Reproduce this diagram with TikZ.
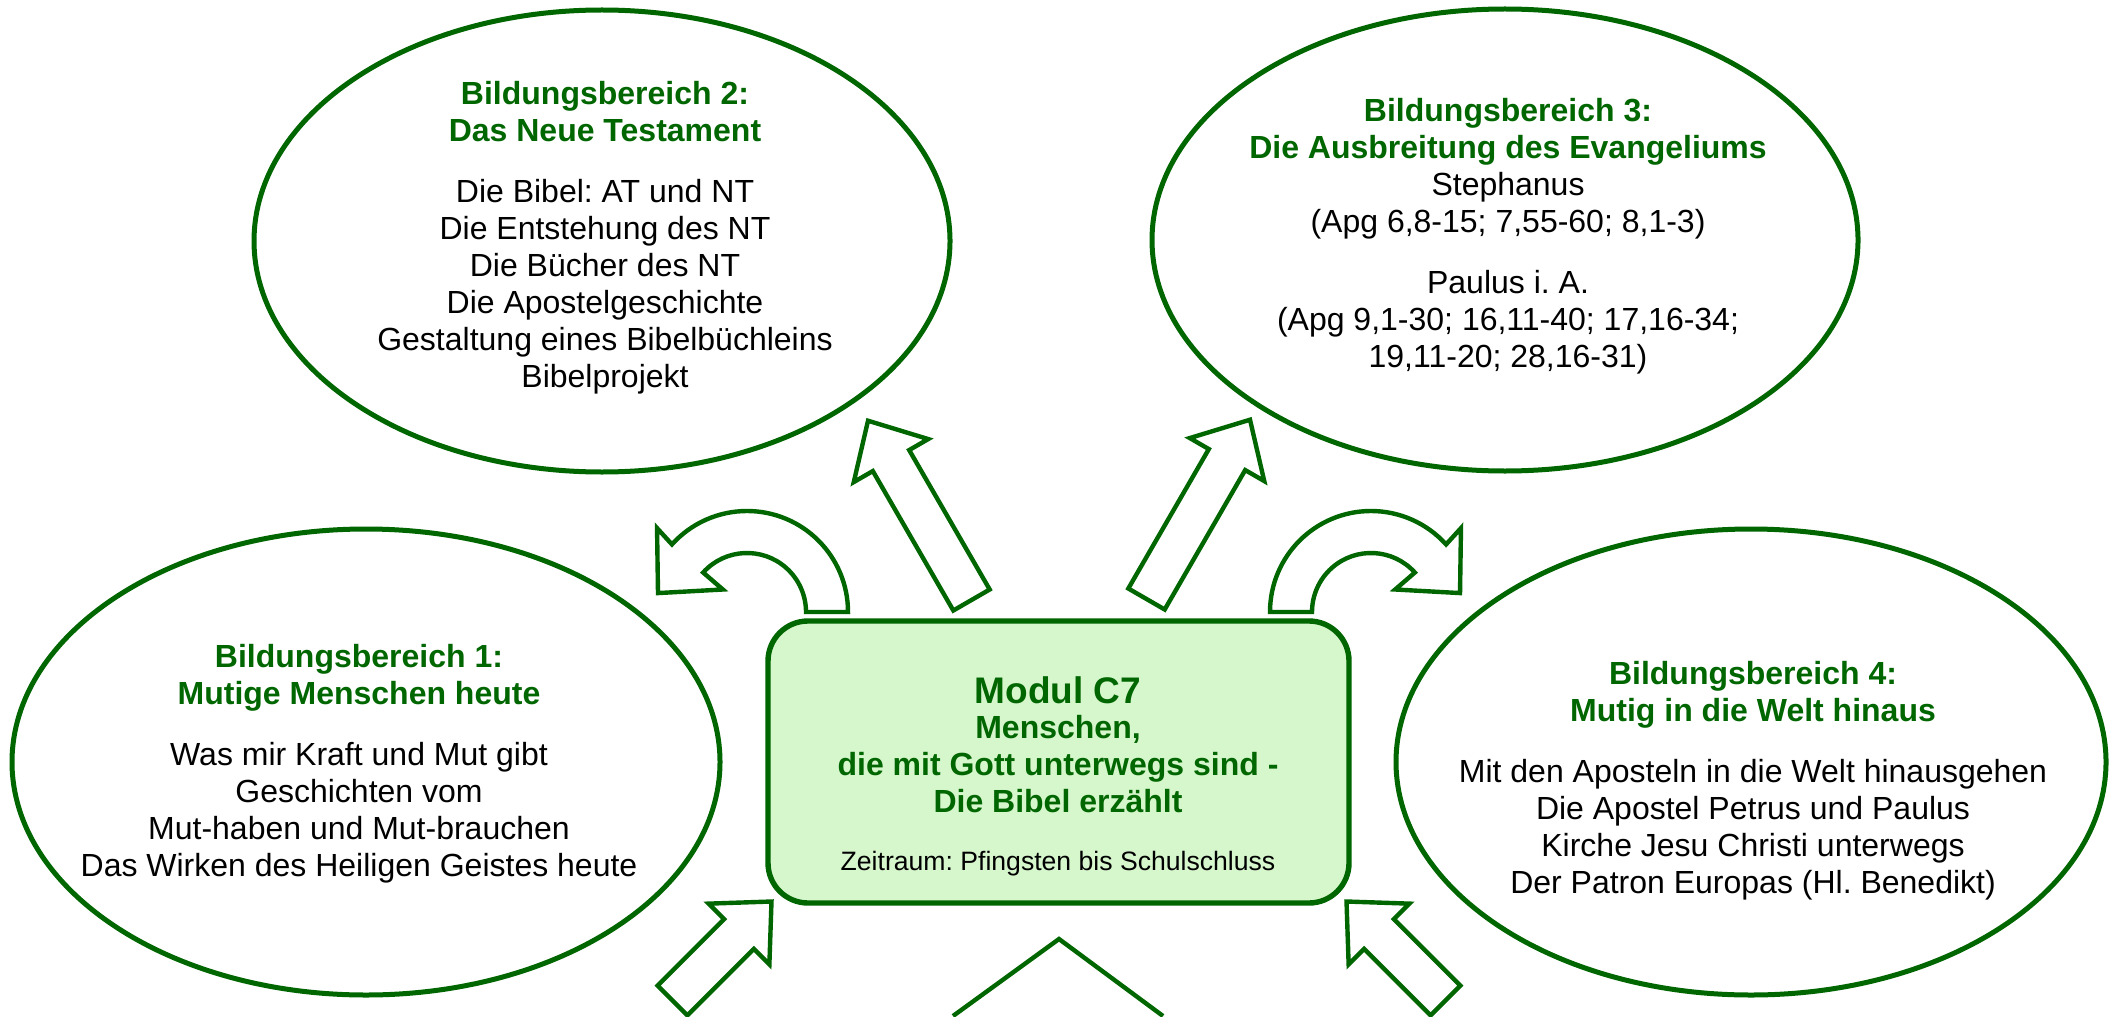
\documentclass[tikz,border=0pt]{standalone}
\usepackage{fontspec}
\setmainfont{Liberation Sans}
\usetikzlibrary{shapes.geometric}
\frenchspacing
\definecolor{dkgreen}{RGB}{0,102,0}
\definecolor{boxfill}{RGB}{214,246,204}
\newcommand{\grtitle}[1]{\textcolor{dkgreen}{\textbf{#1}}}
\newcommand{\straightblock}[4]{%
  \draw[blk, shift={(#1,#2)}, rotate=#3] (0,-21) -- ({#4-46},-21) -- ({#4-46},-43) -- (#4,0) -- ({#4-46},43) -- ({#4-46},21) -- (0,21) -- cycle;}
\begin{document}
\begin{tikzpicture}[x=0.5pt,y=-0.5pt,
  bubble/.style={ellipse, draw=dkgreen, line width=2.5pt, inner sep=0pt, outer sep=0pt},
  modbox/.style={rectangle, rounded corners=20pt, draw=dkgreen, fill=boxfill, line width=2.7pt, inner sep=0pt},
  blk/.style={draw=dkgreen, line width=2.2pt, line join=miter},
  txt/.style={align=center, inner sep=0pt, font=\fontsize{16}{18.5}\selectfont}]
\useasboundingbox[fill=white] (0,0) rectangle (2112,1016);

% ellipses
\node[bubble, minimum width=354pt, minimum height=233pt] (e1) at (366,762) {};
\node[bubble, minimum width=348pt, minimum height=231pt] (e2) at (602,241) {};
\node[bubble, minimum width=353pt, minimum height=231pt] (e3) at (1505,240) {};
\node[bubble, minimum width=355pt, minimum height=233pt] (e4) at (1751,762) {};

% central box
\node[modbox, minimum width=290.5pt, minimum height=141pt] (box) at (1058.5,762) {};

% straight block arrows
\straightblock{1146.5}{599}{60}{207}
\straightblock{971.5}{600}{120}{207}
\straightblock{672.5}{1000.5}{45}{140}
\straightblock{1445.5}{1000.5}{135}{140}

% curved block arrows
\draw[blk, shift={(1371,612)}, yscale=-1] (180:101) arc[start angle=180, end angle=42, radius=101]
  -- (43:123) -- (12:91) -- (43:33) -- (42:59) arc[start angle=42, end angle=180, radius=59] -- cycle;
\draw[blk, shift={(747,612)}, xscale=-1, yscale=-1] (180:101) arc[start angle=180, end angle=42, radius=101]
  -- (43:123) -- (12:91) -- (43:33) -- (42:59) arc[start angle=42, end angle=180, radius=59] -- cycle;

% bottom chevron
\coordinate (chl) at (953,1016);
\coordinate (chtop) at (1059,939);
\coordinate (chr) at (1163,1016);
\draw[blk] (chl) -- (chtop) -- (chr);

% texts
\node[txt] (t1) at (359,764) {\grtitle{Bildungsbereich 1:}\\\grtitle{Mutige Menschen heute}\\[12pt]
Was mir Kraft und Mut gibt\\Geschichten vom\\Mut-haben und Mut-brauchen\\Das Wirken des Heiligen Geistes heute};

\node[txt] (t2) at (605,238) {\grtitle{Bildungsbereich 2:}\\\grtitle{Das Neue Testament}\\[12pt]
Die Bibel: AT und NT\\Die Entstehung des NT\\Die Bücher des NT\\Die Apostelgeschichte\\Gestaltung eines Bibelbüchleins\\Bibelprojekt};

\node[txt] (t3) at (1508,236) {\grtitle{Bildungsbereich 3:}\\\grtitle{Die Ausbreitung des Evangeliums}\\
Stephanus\\(Apg 6,8-15; 7,55-60; 8,1-3)\\[12pt]
Paulus i. A.\\(Apg 9,1-30; 16,11-40; 17,16-34;\\19,11-20; 28,16-31)};

\node[txt] (t4) at (1753,781) {\grtitle{Bildungsbereich 4:}\\\grtitle{Mutig in die Welt hinaus}\\[12pt]
Mit den Aposteln in die Welt hinausgehen\\Die Apostel Petrus und Paulus\\Kirche Jesu Christi unterwegs\\Der Patron Europas (Hl. Benedikt)};

\node[txt, font=\fontsize{18.5}{21}\selectfont] (bt) at (1058,690) {\grtitle{Modul C7}};
\node[txt] (bs) at (1058,764) {\grtitle{Menschen,}\\\grtitle{die mit Gott unterwegs sind -}\\\grtitle{Die Bibel erzählt}};
\node[txt, font=\fontsize{13.3}{15.5}\selectfont] (bz) at (1058,864) {Zeitraum: Pfingsten bis Schulschluss};
\end{tikzpicture}
\end{document}
